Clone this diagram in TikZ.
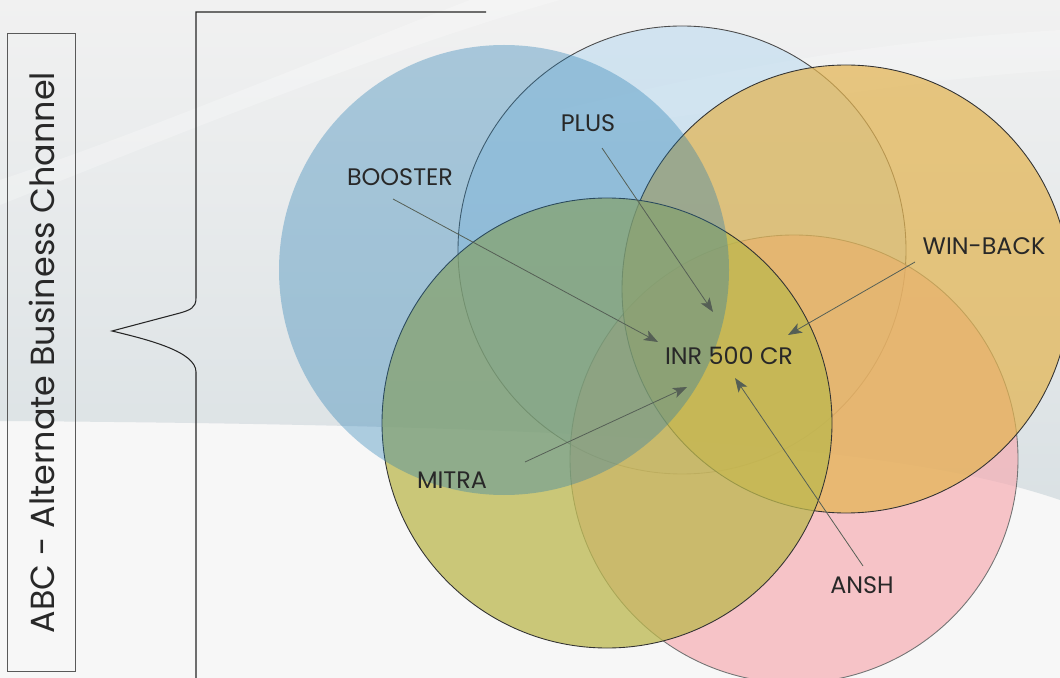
\documentclass[tikz,border=0pt]{standalone}
\usepackage{fontspec}
\setmainfont{Poppins}
\usetikzlibrary{arrows.meta}
\definecolor{bgwhite}{RGB}{247,247,247}
\definecolor{bgtop}{RGB}{241,241,241}
\definecolor{bgbottom}{RGB}{218,225,228}
\definecolor{txtgray}{RGB}{40,40,40}
\definecolor{arrgray}{RGB}{85,95,85}
\definecolor{plusblue}{RGB}{180,216,240}
\definecolor{anshpink}{RGB}{246,174,180}
\definecolor{winorange}{RGB}{227,180,80}
\definecolor{mitraolive}{RGB}{188,184,78}
\definecolor{boosterblue}{RGB}{30,121,177}

\begin{document}
\begin{tikzpicture}[x=0.02cm,y=-0.02cm,
	ring/.style={line width=0.5pt},
	lbl/.style={text=txtgray, font=\fontsize{13.6}{16}\selectfont, inner sep=1pt},
	arr/.style={draw=arrgray, line width=0.45pt, -{Stealth[length=8pt,width=6pt,inset=2pt]}}]

		\clip (0,0) rectangle (1060,678);
		\fill[bgwhite] (0,0) rectangle (1060,678);
		\shade[top color=bgtop, bottom color=bgbottom] (0,0) -- (1060,0) -- (1060,500) .. controls (900,445) and (600,425) .. (0,421) -- cycle;
		\fill[white, opacity=0.25] (0,205) .. controls (200,125) and (400,45) .. (560,0) -- (470,0) .. controls (340,50) and (150,130) .. (0,180) -- cycle;
		\fill[white, opacity=0.2] (560,110) .. controls (760,60) and (900,40) .. (1060,30) -- (1060,70) .. controls (900,80) and (760,110) .. (560,130) -- cycle;

		\draw[ring, draw=black!70, fill=plusblue, fill opacity=0.5] (682,250) circle (224);
		\draw[ring, draw=black!55, fill=anshpink, fill opacity=0.7] (794,459) circle (224);
		\draw[ring, draw=black!80, fill=winorange, fill opacity=0.71] (846,289) circle (224);
		\draw[ring, draw=black!80, fill=mitraolive, fill opacity=0.75] (607,423) circle (225);
		\fill[boosterblue, opacity=0.34] (504,270) circle (225);

		\draw[line width=0.6pt, black!85] (486,12) -- (196,12) -- (196,298) .. controls (196,308) and (190,310) .. (180,313) -- (112,331) .. controls (150,340) and (196,352) .. (196,372) -- (196,680);

		\node[draw=black!65, line width=0.6pt, rotate=90, minimum width=363pt, minimum height=39pt, text=txtgray, font=\fontsize{19}{23}\selectfont] (abc) at (41.5,352.5) {ABC - Alternate Business Channel};

		\node[lbl] (booster) at (400,177) {BOOSTER};
		\node[lbl] (plus) at (588,123) {PLUS};
		\node[lbl] (winback) at (984,246) {WIN-BACK};
		\node[lbl] (mitra) at (452,480) {MITRA};
		\node[lbl] (ansh) at (862,585) {ANSH};
		\node[lbl] (inr) at (729,356) {INR 500 CR};

		\coordinate (booster-tail) at (393,199);
		\coordinate (booster-tip) at (658,342);
		\coordinate (plus-tail) at (602,148);
		\coordinate (plus-tip) at (713,312);
		\coordinate (winback-tail) at (915,262);
		\coordinate (winback-tip) at (788,335);
		\coordinate (mitra-tail) at (525,462);
		\coordinate (mitra-tip) at (687,387);
		\coordinate (ansh-tail) at (863,566);
		\coordinate (ansh-tip) at (735,378);

		\draw[arr] (booster-tail) -- (booster-tip);
		\draw[arr] (plus-tail) -- (plus-tip);
		\draw[arr] (winback-tail) -- (winback-tip);
		\draw[arr] (mitra-tail) -- (mitra-tip);
		\draw[arr] (ansh-tail) -- (ansh-tip);
	\end{tikzpicture}
\end{document}
